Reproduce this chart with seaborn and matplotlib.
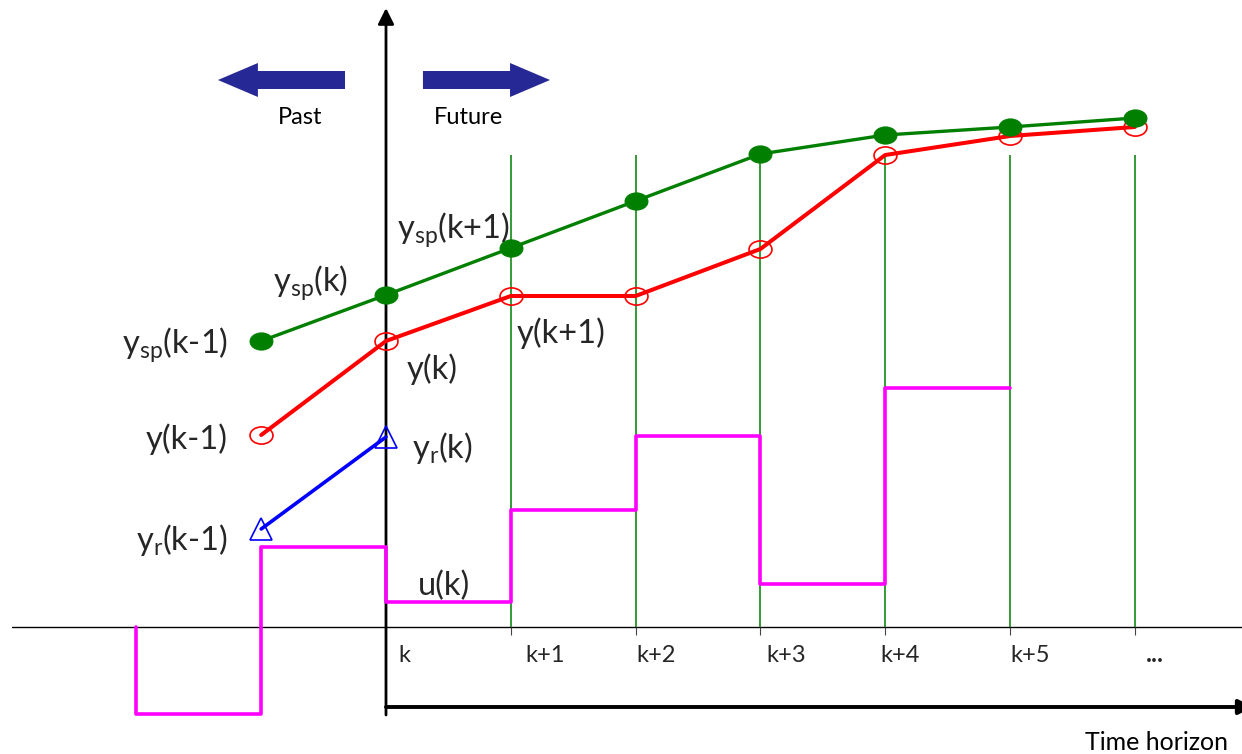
import numpy as np
import pandas as pd
import matplotlib
matplotlib.use("Agg")
import matplotlib.pyplot as plt
import seaborn as sns
from matplotlib.path import Path
from matplotlib.transforms import Affine2D
from matplotlib.patches import FancyArrow

# ---------------- data ----------------
sp_steps = [-1, 0, 1, 2, 3, 4, 5, 6]
setpoint = [2.86, 3.32, 3.79, 4.26, 4.73, 4.92, 5.00, 5.09]
output = [1.92, 2.86, 3.31, 3.31, 3.78, 4.72, 4.91, 5.00]
ref_steps = [-1, 0]
reference = [0.98, 1.90]
u_steps = [-2, -2, -1, 0, 1, 2, 3, 4, 5]
u_values = [0.0, -0.87, 0.80, 0.25, 1.17, 1.91, 0.43, 2.39, 2.39]
grid_steps = [1, 2, 3, 4, 5, 6]
tick_labels = ["k", "k+1", "k+2", "k+3", "k+4", "k+5", "..."]
tick_label_x = [0.10, 1.12, 2.01, 3.05, 3.96, 5.00, 6.09]

sns.set_theme(style="white")
plt.rcParams["font.family"] = ["Lato", "DejaVu Sans"]
plt.rcParams["mathtext.fontset"] = "custom"
plt.rcParams["mathtext.rm"] = "Lato"
plt.rcParams["mathtext.it"] = "Lato:italic"

fig = plt.figure(figsize=(12.42, 7.54), dpi=100)
ax = fig.add_axes([0, 0, 1, 1])
ax.set_xlim(-386 / 124.8, (1242 - 386) / 124.8)
ax.set_ylim(-1.27, 6.27)
ax.axis("off")

GREEN = "#007f00"
RED = "#ff0000"
BLUE = "#0000ff"
MAG = "#ff00ff"
NAVY = "#262896"

ell = Path.unit_circle().transformed(Affine2D().scale(1.0, 0.75))

# axes lines
ax.plot([-2.997, 6.86], [0, 0], color="black", lw=1.0, zorder=1)
ax.vlines(grid_steps, 0, -0.08, color="#444444", lw=0.8, zorder=1)
ax.vlines(grid_steps, 0, 4.72, color=GREEN, lw=1.1, zorder=1)
ax.annotate("", xy=(0, 6.19), xytext=(0, -0.88), annotation_clip=False,
            arrowprops=dict(arrowstyle="-|>", color="black", lw=2.0,
                            mutation_scale=24, shrinkA=0, shrinkB=0), zorder=2)
ax.annotate("", xy=(6.95, -0.80), xytext=(0, -0.80), annotation_clip=False,
            arrowprops=dict(arrowstyle="-|>", color="black", lw=2.8,
                            mutation_scale=22, shrinkA=0, shrinkB=0), zorder=2)

# control signal
sns.lineplot(x=u_steps, y=u_values, estimator=None, sort=False, drawstyle="steps-post",
             color=MAG, lw=2.6, ax=ax, zorder=3)

# reference trajectory
sns.lineplot(x=ref_steps, y=reference, estimator=None, sort=False, color=BLUE, lw=2.6,
             marker="^", markersize=16, markerfacecolor="none", markeredgecolor=BLUE,
             markeredgewidth=1.2, ax=ax, zorder=4)

# output
sns.lineplot(x=sp_steps, y=output, estimator=None, sort=False, color=RED, lw=2.9,
             marker=ell, markersize=16.5, markerfacecolor="none", markeredgecolor=RED,
             markeredgewidth=1.2, ax=ax, zorder=5)

# set point
sns.lineplot(x=sp_steps, y=setpoint, estimator=None, sort=False, color=GREEN, lw=2.4,
             marker=ell, markersize=16.5, markerfacecolor=GREEN, markeredgecolor=GREEN,
             ax=ax, zorder=6)

# Past / Future arrows
ax.add_patch(FancyArrow(-0.3285, 5.47, -1.018, 0, width=0.18, head_width=0.34,
                        head_length=0.32, length_includes_head=True, color=NAVY, lw=0))
ax.add_patch(FancyArrow(0.296, 5.47, 1.018, 0, width=0.18, head_width=0.34,
                        head_length=0.32, length_includes_head=True, color=NAVY, lw=0))
ax.text(-0.689, 5.09, "Past", fontsize=17, ha="center", va="center", color="black")
ax.text(0.665, 5.09, "Future", fontsize=17, ha="center", va="center", color="black")
ax.text(6.17, -1.15, "Time horizon", fontsize=18, ha="center", va="center", color="black")

# labels
big = 23.5
ax.text(-1.266, 2.82, r"y$_{\mathrm{sp}}$(k-1)", fontsize=big, ha="right", va="center")
ax.text(-0.905, 3.44, r"y$_{\mathrm{sp}}$(k)", fontsize=big, ha="left", va="center")
ax.text(0.088, 3.97, r"y$_{\mathrm{sp}}$(k+1)", fontsize=big, ha="left", va="center")
ax.text(1.05, 2.94, "y(k+1)", fontsize=big, ha="left", va="center")
ax.text(0.168, 2.58, "y(k)", fontsize=big, ha="left", va="center")
ax.text(-1.266, 1.88, "y(k-1)", fontsize=big, ha="right", va="center")
ax.text(0.208, 1.79, r"y$_{\mathrm{r}}$(k)", fontsize=big, ha="left", va="center")
ax.text(-1.266, 0.87, r"y$_{\mathrm{r}}$(k-1)", fontsize=big, ha="right", va="center")
ax.text(0.256, 0.41, "u(k)", fontsize=big, ha="left", va="center")

for lab, xp in zip(tick_labels, tick_label_x):
    ax.text(xp, -0.28, lab, fontsize=17 if lab != "..." else 18, ha="left", va="center",
            fontweight="bold" if lab == "..." else "normal")

fig.savefig("out.png", dpi=100)
